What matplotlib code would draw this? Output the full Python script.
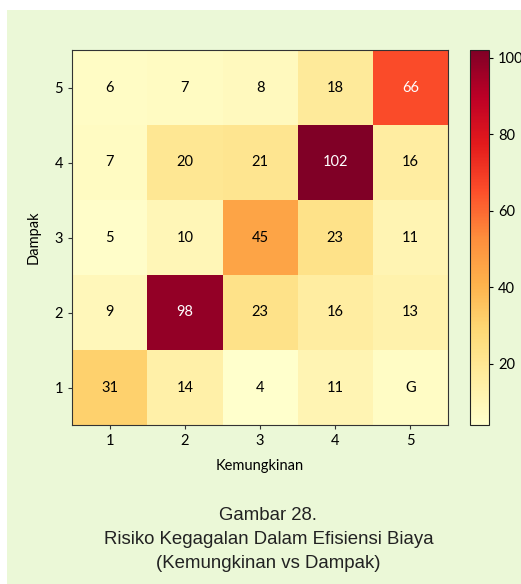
import matplotlib.pyplot as plt
import numpy as np
from matplotlib.patches import Rectangle

# Kemungkinan (x) vs Dampak (y)
kemungkinan = [1, 2, 3, 4, 5]
dampak = [1, 2, 3, 4, 5]

# rows follow dampak 1..5 (bottom to top)
dampak_1 = [31, 14, 4, 11, 6]
dampak_2 = [9, 98, 23, 16, 13]
dampak_3 = [5, 10, 45, 23, 11]
dampak_4 = [7, 20, 21, 102, 16]
dampak_5 = [6, 7, 8, 18, 66]

# labels as printed in the source (last cell of row 1 reads "G")
label_1 = ['31', '14', '4', '11', 'G']
label_2 = [str(v) for v in dampak_2]
label_3 = [str(v) for v in dampak_3]
label_4 = [str(v) for v in dampak_4]
label_5 = [str(v) for v in dampak_5]

colorbar_ticks = [20, 40, 60, 80, 100]

caption = ['Gambar 28.', 'Risiko Kegagalan Dalam Efisiensi Biaya',
           '(Kemungkinan vs Dampak)']

BG = '#ebf8d7'
W, H = 521, 584

data = np.array([dampak_1, dampak_2, dampak_3, dampak_4, dampak_5])
labels = [label_1, label_2, label_3, label_4, label_5]

fig = plt.figure(figsize=(W / 100, H / 100), dpi=100)
fig.patch.set_facecolor('white')
fig.add_artist(Rectangle((7 / W, 0), 1 - 7 / W, 1 - 10 / H,
                         transform=fig.transFigure, facecolor=BG,
                         edgecolor='none', zorder=-10))

tick_font = 'Lato'
fs = 10.5
ax = fig.add_axes([72 / W, 1 - 425 / H, (448 - 72) / W, (425 - 50) / H])
im = ax.imshow(data, cmap='YlOrRd', origin='lower', aspect='auto',
               extent=(0.5, 5.5, 0.5, 5.5))

for i in range(len(dampak)):
    for j in range(len(kemungkinan)):
        v = data[i, j]
        color = 'white' if v > 60 else 'black'
        ax.text(kemungkinan[j], dampak[i], labels[i][j], ha='center',
                va='center', color=color, fontsize=fs, family=tick_font)

ax.set_xticks(kemungkinan)
ax.set_yticks(dampak)
ax.set_xticklabels([str(k) for k in kemungkinan], family=tick_font, fontsize=fs)
ax.set_yticklabels([str(d) for d in dampak], family=tick_font, fontsize=fs)
ax.tick_params(length=3, color='#333333')
for s in ax.spines.values():
    s.set_color('#333333')
ax.set_xlabel('Kemungkinan', family=tick_font, fontsize=fs, labelpad=8)
ax.set_ylabel('Dampak', family=tick_font, fontsize=fs, labelpad=10)

cax = fig.add_axes([470 / W, 1 - 425 / H, 19 / W, (425 - 50) / H])
cb = fig.colorbar(im, cax=cax, ticks=colorbar_ticks)
cb.ax.tick_params(length=3, labelsize=fs)
for t in cb.ax.get_yticklabels():
    t.set_family(tick_font)
cb.outline.set_edgecolor('#222222')

for k, line in enumerate(caption):
    fig.text(0.515, 1 - (515 + 24 * k) / H, line, ha='center', va='center',
             fontsize=13.4, family='Liberation Sans', color='#222222')

fig.savefig('out.png', dpi=100, facecolor=fig.get_facecolor())
